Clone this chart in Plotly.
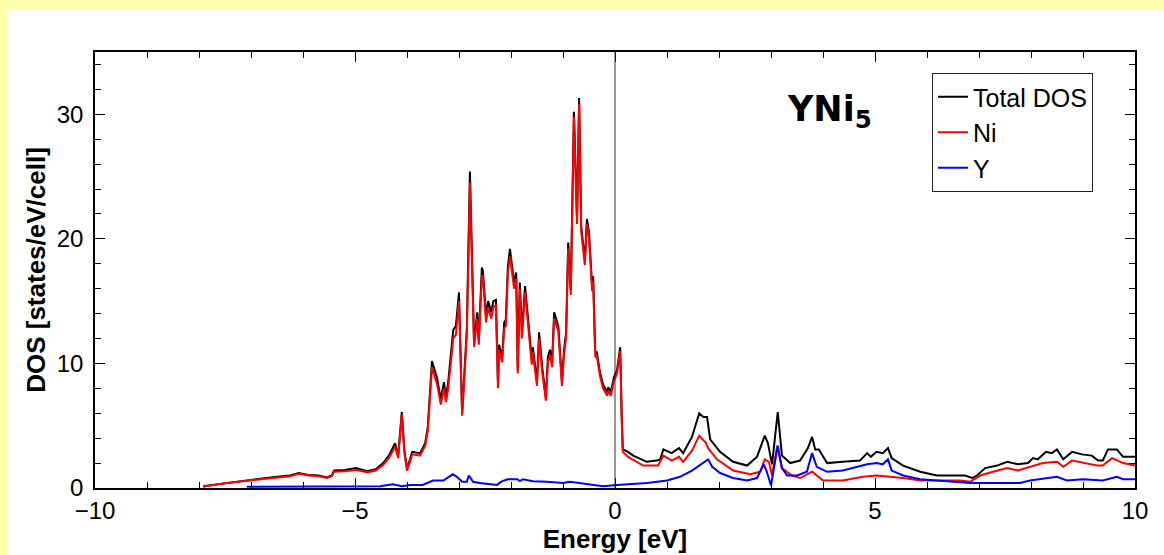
import plotly.graph_objects as go

# ---- Data ----
energy_total = [-7.92, -7.5, -7.0, -6.5, -6.25, -6.08, -5.9, -5.7, -5.54, -5.45, -5.40, -5.2, -4.98, -4.85, -4.77,
                -4.6, -4.46, -4.35, -4.23, -4.17, -4.10, -4.05, -4.0, -3.95, -3.90, -3.75, -3.65, -3.60, -3.52,
                -3.42, -3.35, -3.29, -3.25, -3.21, -3.11, -3.06, -3.0, -2.94, -2.85, -2.79, -2.71, -2.65, -2.62,
                -2.56, -2.54, -2.48, -2.44, -2.38, -2.34, -2.29, -2.25, -2.23, -2.17, -2.13, -2.10, -2.06, -2.02,
                -1.98, -1.94, -1.90, -1.87, -1.83, -1.79, -1.73, -1.69, -1.65, -1.60, -1.58, -1.50, -1.46, -1.40,
                -1.33, -1.29, -1.25, -1.21, -1.17, -1.12, -1.09, -1.02, -0.98, -0.94, -0.90, -0.85, -0.79, -0.73,
                -0.69, -0.65, -0.58, -0.54, -0.50, -0.44, -0.42, -0.38, -0.35, -0.29, -0.23, -0.15, -0.13, -0.08,
                -0.02, 0.04, 0.10, 0.13, 0.15, 0.25, 0.35, 0.61, 0.80, 0.87, 0.93, 1.09, 1.23, 1.31, 1.48, 1.62,
                1.70, 1.77, 1.83, 2.02, 2.27, 2.54, 2.73, 2.88, 2.94, 3.02, 3.13, 3.21, 3.37, 3.56, 3.71, 3.79,
                3.85, 3.92, 4.08, 4.38, 4.71, 4.85, 4.92, 5.03, 5.15, 5.25, 5.32, 5.54, 5.87, 6.19, 6.63, 6.73,
                6.87, 6.96, 7.12, 7.35, 7.54, 7.75, 7.94, 8.04, 8.13, 8.29, 8.40, 8.50, 8.62, 8.79, 8.98, 9.17,
                9.29, 9.38, 9.48, 9.65, 9.77, 10.0]
dos_total = [0.15, 0.4, 0.65, 0.9, 1.0, 1.2, 1.05, 1.0, 0.85, 1.0, 1.4, 1.45, 1.6, 1.45, 1.35,
             1.5, 2.0, 2.6, 3.6, 2.6, 6.1, 3.0, 1.6, 2.2, 2.9, 2.8, 3.6, 4.9, 10.2,
             8.8, 7.1, 8.5, 7.3, 8.4, 12.7, 13.0, 15.7, 6.0, 12.7, 25.4, 11.7, 14.1, 11.9,
             17.7, 17.4, 13.8, 15.0, 14.1, 15.0, 15.1, 8.3, 11.5, 10.5, 13.3, 13.5, 17.8, 19.2,
             17.8, 16.5, 17.3, 9.5, 16.5, 12.5, 16.2, 14.3, 13.0, 10.3, 11.3, 8.5, 12.5, 9.7,
             7.3, 10.5, 11.1, 10.1, 14.1, 13.4, 13.0, 8.5, 11.1, 12.5, 19.7, 15.9, 30.2, 21.6,
             31.3, 21.0, 18.3, 21.6, 20.5, 16.2, 17.0, 10.9, 10.9, 9.3, 8.3, 7.7, 8.1, 7.7,
             8.9, 9.5, 11.3, 5.7, 3.1, 2.9, 2.6, 2.1, 2.2, 2.3, 3.1, 2.8, 3.2, 2.8, 4.1, 6.0,
             5.7, 5.7, 3.9, 2.9, 2.1, 1.8, 2.5, 4.2, 3.6, 1.9, 6.1, 2.6, 2.0, 2.2, 3.2, 4.1,
             3.1, 3.1, 2.0, 2.1, 2.2, 2.8, 2.5, 2.9, 2.8, 3.2, 2.4, 1.8, 1.3, 1.0, 1.0, 1.0,
             0.8, 1.0, 1.6, 1.8, 2.1, 1.9, 2.0, 2.4, 2.3, 2.9, 2.8, 3.1, 2.3, 2.9, 2.7, 2.6,
             2.2, 2.2, 3.1, 3.1, 2.5, 2.5]

energy_ni = [-7.92, -7.5, -7.0, -6.5, -6.25, -6.08, -5.9, -5.7, -5.54, -5.45, -5.40, -5.2, -4.98, -4.85, -4.77,
             -4.6, -4.46, -4.35, -4.23, -4.17, -4.10, -4.05, -4.0, -3.95, -3.90, -3.75, -3.65, -3.60, -3.52,
             -3.42, -3.35, -3.29, -3.25, -3.21, -3.11, -3.06, -3.0, -2.94, -2.85, -2.79, -2.71, -2.65, -2.62,
             -2.56, -2.54, -2.48, -2.44, -2.38, -2.34, -2.29, -2.25, -2.23, -2.17, -2.13, -2.10, -2.06, -2.02,
             -1.98, -1.94, -1.90, -1.87, -1.83, -1.79, -1.73, -1.69, -1.65, -1.60, -1.58, -1.50, -1.46, -1.40,
             -1.33, -1.29, -1.25, -1.21, -1.17, -1.12, -1.09, -1.02, -0.98, -0.94, -0.90, -0.85, -0.79, -0.73,
             -0.69, -0.65, -0.58, -0.54, -0.50, -0.44, -0.42, -0.38, -0.35, -0.29, -0.23, -0.15, -0.13, -0.08,
             -0.02, 0.04, 0.10, 0.13, 0.15, 0.25, 0.54, 0.83, 0.93, 1.09, 1.23, 1.31, 1.48, 1.62, 1.75, 1.79,
             1.96, 2.27, 2.60, 2.79, 2.88, 2.96, 3.02, 3.12, 3.21, 3.40, 3.56, 3.79, 4.0, 4.38, 4.77, 5.03,
             5.27, 5.54, 5.87, 6.19, 6.63, 6.83, 7.02, 7.27, 7.54, 7.75, 7.98, 8.23, 8.50, 8.62, 8.79, 9.0,
             9.27, 9.38, 9.56, 9.77, 10.0]
dos_ni = [0.1, 0.38, 0.62, 0.85, 0.95, 1.15, 1.0, 0.95, 0.8, 0.95, 1.3, 1.35, 1.45, 1.35, 1.25,
          1.4, 1.85, 2.4, 3.3, 2.4, 5.9, 2.8, 1.4, 2.0, 2.7, 2.6, 3.4, 4.6, 9.7,
          8.3, 6.7, 8.0, 6.9, 7.9, 12.0, 12.3, 15.0, 5.8, 12.2, 24.5, 11.3, 13.6, 11.5,
          17.1, 16.9, 13.3, 14.5, 13.6, 14.5, 14.7, 8.0, 11.1, 10.1, 12.8, 13.0, 17.2, 18.6,
          17.3, 16.0, 16.8, 9.2, 16.0, 12.0, 15.7, 13.9, 12.6, 9.9, 10.9, 8.2, 12.0, 9.3,
          7.0, 10.1, 10.7, 9.7, 13.6, 13.0, 12.6, 8.2, 10.7, 12.1, 19.2, 15.5, 29.8, 21.2,
          30.8, 20.6, 17.9, 21.2, 20.1, 15.8, 16.6, 10.5, 10.6, 9.0, 8.0, 7.4, 7.8, 7.4,
          8.6, 9.2, 11.0, 5.3, 2.9, 2.5, 1.8, 1.8, 2.6, 2.2, 2.5, 2.1, 3.0, 4.2, 3.6, 3.2,
          2.3, 1.4, 1.1, 1.3, 2.3, 2.1, 1.0, 3.4, 1.6, 1.0, 0.8, 1.3, 0.6, 0.6, 0.9, 1.0,
          0.9, 0.8, 0.6, 0.6, 0.6, 0.5, 1.0, 1.3, 1.6, 1.4, 1.7, 2.0, 2.1, 1.7, 2.2, 2.0,
          1.8, 1.8, 2.4, 2.0, 1.8]

energy_y = [-7.08, -6.0, -5.38, -4.52, -4.27, -4.10, -3.94, -3.7, -3.50, -3.30, -3.12, -3.04, -2.94, -2.85,
            -2.81, -2.73, -2.60, -2.40, -2.27, -2.17, -2.06, -1.88, -1.83, -1.77, -1.58, -1.31, -1.0, -0.87,
            -0.67, -0.48, -0.23, 0.04, 0.3, 0.62, 1.0, 1.25, 1.48, 1.79, 1.87, 2.02, 2.27, 2.54, 2.73, 2.86,
            2.92, 3.0, 3.13, 3.21, 3.31, 3.50, 3.69, 3.79, 3.88, 4.08, 4.38, 4.77, 4.85, 5.03, 5.15, 5.25,
            5.32, 5.54, 5.87, 6.19, 6.63, 6.83, 7.46, 7.79, 7.98, 8.50, 8.69, 9.0, 9.38, 9.65, 9.77, 10.0]
dos_y = [0.1, 0.12, 0.15, 0.15, 0.3, 0.15, 0.25, 0.25, 0.6, 0.6, 1.1, 0.9, 0.5, 0.5,
         1.0, 0.5, 0.4, 0.3, 0.25, 0.55, 0.7, 0.7, 0.55, 0.7, 0.55, 0.5, 0.4, 0.5,
         0.4, 0.25, 0.15, 0.25, 0.3, 0.4, 0.6, 0.9, 1.4, 2.3, 1.7, 1.2, 0.8, 0.6, 0.8, 1.9,
         1.3, 0.2, 3.4, 1.6, 1.0, 1.0, 1.3, 2.8, 1.7, 1.3, 1.4, 1.8, 1.9, 2.0, 1.9, 2.3,
         1.4, 1.0, 0.7, 0.6, 0.5, 0.4, 0.4, 0.4, 0.6, 0.9, 0.6, 0.7, 0.6, 0.9, 0.7, 0.7]

series_names = ["Total DOS", "Ni", "Y"]
series_colors = ["#000000", "#ff0000", "#0000ff"]
x_tick_vals = [-10, -5, 0, 5, 10]
y_tick_vals = [0, 10, 20, 30]

FONT = "Liberation Sans, Arial, sans-serif"
YELLOW = "#FFFFA8"

fig = go.Figure()
for name, xs, ys, col in zip(series_names,
                             [energy_total, energy_ni, energy_y],
                             [dos_total, dos_ni, dos_y],
                             series_colors):
    fig.add_trace(go.Scatter(x=xs, y=ys, mode="lines", name=name,
                             line=dict(color=col, width=2)))

W, H = 1164, 555
L, R, T, B = 95, 29, 52, 67
pw, ph = W - L - R, H - T - B


def px_x(p):
    return (p - L) / pw


def px_y(p):
    return (H - B - p) / ph


fig.update_layout(
    width=W, height=H,
    margin=dict(l=L, r=R, t=T, b=B, pad=0),
    paper_bgcolor="white",
    plot_bgcolor="white",
    font=dict(family=FONT, size=24, color="black"),
    showlegend=True,
    legend=dict(x=px_x(932), y=px_y(73), xanchor="left", yanchor="top",
                bgcolor="white", bordercolor="#222222", borderwidth=1,
                font=dict(family=FONT, size=25, color="black"),
                itemwidth=30, tracegroupgap=0),
    xaxis=dict(range=[-10, 10], tickvals=x_tick_vals, ticks="inside", ticklen=10, tickwidth=1,
               tickcolor="black", showline=True, linecolor="black", linewidth=1.5, mirror="allticks",
               showgrid=False, zeroline=False, automargin=False,
               minor=dict(dtick=1, ticks="inside", ticklen=6, tickcolor="black", showgrid=False),
               title=dict(text="<b>Energy [eV]</b>", font=dict(family=FONT, size=26), standoff=4),
               tickfont=dict(family=FONT, size=24)),
    yaxis=dict(range=[0, 35], tickvals=y_tick_vals, ticks="inside", ticklen=10, tickwidth=1,
               tickcolor="black", showline=True, linecolor="black", linewidth=1.5, mirror="allticks",
               showgrid=False, zeroline=False, automargin=False, ticklabelstandoff=5,
               minor=dict(dtick=2, ticks="inside", ticklen=6, tickcolor="black", showgrid=False),
               title=dict(text="<b>DOS [states/eV/cell]</b>", font=dict(family=FONT, size=26), standoff=4),
               tickfont=dict(family=FONT, size=24)),
    shapes=[
        # yellow frame strips (left and top) of the slide background
        dict(type="rect", xref="paper", yref="paper", layer="below",
             x0=px_x(0), x1=px_x(8), y0=px_y(H), y1=px_y(0),
             fillcolor=YELLOW, line=dict(width=0)),
        dict(type="rect", xref="paper", yref="paper", layer="below",
             x0=px_x(0), x1=px_x(W), y0=px_y(9), y1=px_y(0),
             fillcolor=YELLOW, line=dict(width=0)),
        dict(type="line", xref="x", yref="paper", x0=0, x1=0, y0=0, y1=1,
             line=dict(color="#333333", width=1)),
    ],
    annotations=[
        dict(text="<b>YNi<sub>5</sub></b>", xref="paper", yref="paper",
             x=px_x(829), y=px_y(112), xanchor="center", yanchor="middle",
             showarrow=False, font=dict(family="DejaVu Sans, sans-serif", size=35, color="black")),
    ],
)

fig.write_html("out.html", config={"displayModeBar": False},
               post_script=("document.documentElement.style.overflow='hidden';"
                            "document.body.style.overflow='hidden';"
                            "document.body.style.margin='0';"
                            "document.body.style.background='white';"))
